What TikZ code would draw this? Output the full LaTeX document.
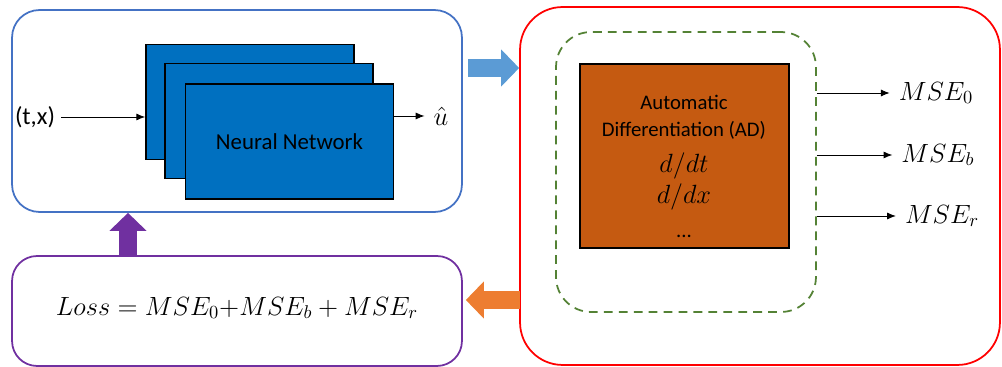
\documentclass[tikz,border=0pt]{standalone}
\usepackage{fix-cm}
\usepackage[no-math]{fontspec}
\newfontfamily\labelfont{Carlito}
\usetikzlibrary{arrows.meta}
\definecolor{nnblue}{HTML}{0070C0}
\definecolor{frameblue}{HTML}{4472C4}
\definecolor{arrowblue}{HTML}{5B9BD5}
\definecolor{adorange}{HTML}{C55A11}
\definecolor{arroworange}{HTML}{ED7D31}
\definecolor{losspurple}{HTML}{7030A0}
\definecolor{dashgreen}{HTML}{548235}
\begin{document}
\begin{tikzpicture}[x=0.02cm,y=-0.02cm,
    frame/.style={draw,line width=1pt,rounded corners=0.55cm},
    layer/.style={draw=black,fill=nnblue,line width=1pt,minimum width=4.16cm,minimum height=2.3cm},
    txt/.style={font=\labelfont\fontsize{11.8}{13}\selectfont},
    mth/.style={font=\fontsize{15}{18}\selectfont,inner sep=5pt},
    thinarrow/.style={-{Latex[length=5pt,width=4pt]},line width=0.5pt},
    fatarrow/.style={line width=0.36cm,-{Triangle[length=0.36cm,width=0.72cm]}}]
  \useasboundingbox (0,0) rectangle (1002,367);
  \draw
    (237,111) node[frame,draw=frameblue,minimum width=9cm,minimum height=4.04cm] (nnbox){}
    (760,186) node[frame,draw=red,rounded corners=0.85cm,minimum width=9.6cm,minimum height=7.16cm] (redbox){}
    (686,172) node[frame,draw=dashgreen,dash pattern=on 5pt off 3.5pt,rounded corners=0.7cm,minimum width=5.2cm,minimum height=5.6cm] (adzone){}
    (237,311) node[frame,draw=losspurple,rounded corners=0.5cm,minimum width=9cm,minimum height=2.2cm] (lossbox){};
  \draw
    (250,102) node[layer] (nn1){}
    (269,121) node[layer] (nn2){}
    (289.5,141.5) node[layer,txt,font=\labelfont\fontsize{13}{15}\selectfont] (nn3){Neural Network}
    (684.5,156) node[draw=black,fill=adorange,line width=1pt,minimum width=4.18cm,minimum height=3.68cm] (adbox){};
  \draw
    (35,117) node[txt,font=\labelfont\fontsize{14}{16}\selectfont] (tx){(t,x)}
    (441,116) node[mth] (uhat){$\hat{u}$}
    (684,102) node[txt] (ad1){Automatic}
    (684,130) node[txt] (ad2){Differentiation (AD)}
    (684,166) node[mth,inner sep=0pt] (ad3){$d/dt$}
    (684,197) node[mth,inner sep=0pt] (ad4){$d/dx$}
    (684,238) node[txt,anchor=base,inner sep=0pt] (ad5){...}
    (936,93) node[mth] (mse0){$MSE_0$}
    (938,155) node[mth] (mseb){$MSE_b$}
    (942,216) node[mth] (mser){$MSE_r$}
    (237,308) node[mth] (loss){$Loss = MSE_0{+}MSE_b + MSE_r$};
  \coordinate (bluestart) at (468,68);
  \coordinate (orangestart) at (520,300);
  \coordinate (upx) at (128,0);
  \begin{scope}[thinarrow]
    \draw (tx.east) -- (tx.east -| nn1.west);
    \draw (uhat.west -| nn3.east) -- (uhat.west);
    \draw (mse0.west -| adzone.east) -- (mse0.west);
    \draw (mseb.west -| adzone.east) -- (mseb.west);
    \draw (mser.west -| adzone.east) -- (mser.west);
  \end{scope}
  \begin{scope}[fatarrow]
    \draw[arrowblue] (bluestart) -- (bluestart -| redbox.west);
    \draw[arroworange,shorten >=3*0.02cm] (orangestart) -- (orangestart -| lossbox.east);
    \draw[losspurple] (lossbox.north -| upx) -- (nnbox.south -| upx);
  \end{scope}
\end{tikzpicture}
\end{document}
